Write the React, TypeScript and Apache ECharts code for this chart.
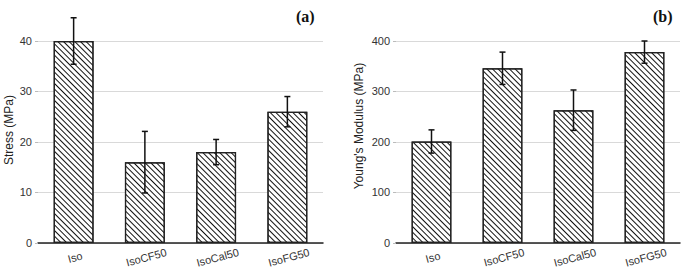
import React, { useEffect, useRef } from "react";
import * as echarts from "echarts";

const categories = ["Iso", "IsoCF50", "IsoCal50", "IsoFG50"];
const stressValues = [40, 16, 18, 26];
const stressErrors = [4.6, 6.1, 2.5, 3];
const modulusValues = [201, 346, 263, 378];
const modulusErrors = [23, 32, 40, 22];
const stressTicks = [0, 10, 20, 30, 40];
const modulusTicks = [0, 100, 200, 300, 400];
const axisNames = ["Stress (MPa)", "Young's Modulus (MPa)"];

const FONT = "Liberation Sans";

const hatch = {
  symbol: "rect",
  symbolSize: 1,
  color: "#111",
  dashArrayX: [1, 0],
  dashArrayY: [1, 3],
  rotation: Math.PI / 4,
  backgroundColor: "#fff",
};

function errSeries(xi: number, vals: number[], errs: number[]) {
  return {
    type: "custom",
    xAxisIndex: xi,
    yAxisIndex: xi,
    z: 5,
    clip: false,
    data: vals.map((v, i) => [i, v - errs[i], v + errs[i]]),
    renderItem: (params: any, api: any) => {
      const x = api.value(0);
      const lo = api.coord([x, api.value(1)]);
      const hi = api.coord([x, api.value(2)]);
      const style = { stroke: "#111", lineWidth: 1.5 };
      return {
        type: "group",
        children: [
          { type: "line", shape: { x1: hi[0], y1: hi[1], x2: lo[0], y2: lo[1] }, style },
          { type: "line", shape: { x1: hi[0] - 3, y1: hi[1], x2: hi[0] + 3, y2: hi[1] }, style },
          { type: "line", shape: { x1: lo[0] - 3, y1: lo[1], x2: lo[0] + 3, y2: lo[1] }, style },
        ],
      };
    },
  };
}

function xAxisDef(gi: number) {
  return {
    type: "category",
    gridIndex: gi,
    data: categories,
    axisLine: { lineStyle: { color: "#222", width: 1.5 } },
    axisTick: { alignWithLabel: true, length: 3, lineStyle: { color: "#222" } },
    axisLabel: {
      rotate: 15,
      align: "center",
      verticalAlign: "top",
      margin: 9,
      fontSize: 11,
      color: "#333",
      fontFamily: FONT,
    },
  };
}

function yAxisDef(gi: number, ticks: number[]) {
  return {
    type: "value",
    gridIndex: gi,
    min: ticks[0],
    max: ticks[ticks.length - 1],
    interval: ticks[1] - ticks[0],
    axisLine: { show: false },
    axisTick: { show: true, length: 3, lineStyle: { color: "#bbb" } },
    axisLabel: { fontSize: 11, color: "#333", margin: 6, fontFamily: FONT },
    splitLine: { lineStyle: { color: "#d9d9d9", width: 1 } },
  };
}

export default function App() {
  const ref = useRef<HTMLDivElement>(null);
  useEffect(() => {
    const chart = echarts.init(ref.current!, undefined, { renderer: "svg" });
    const titleStyle = { fontFamily: "Liberation Serif", fontWeight: "bold", fontSize: 16, color: "#111" };
    const nameStyle = (text: string) => ({
      text,
      fontSize: 12,
      fill: "#222",
      fontFamily: FONT,
      textAlign: "center",
      textVerticalAlign: "middle",
    });
    chart.setOption({
      animation: false,
      backgroundColor: "#fff",
      title: [
        { text: "(a)", left: 291, top: 3, textStyle: titleStyle },
        { text: "(b)", left: 648, top: 3, textStyle: titleStyle },
      ],
      graphic: [
        { type: "text", x: 9, y: 130, rotation: Math.PI / 2, style: nameStyle(axisNames[0]) },
        { type: "text", x: 359, y: 126, rotation: Math.PI / 2, style: nameStyle(axisNames[1]) },
      ],
      grid: [
        { left: 38, right: 362, top: 41, bottom: 25 },
        { left: 396, right: 5, top: 41, bottom: 25 },
      ],
      xAxis: [xAxisDef(0), xAxisDef(1)],
      yAxis: [yAxisDef(0, stressTicks), yAxisDef(1, modulusTicks)],
      series: [
        {
          type: "bar",
          xAxisIndex: 0,
          yAxisIndex: 0,
          data: stressValues,
          barWidth: "56%",
          itemStyle: { color: "#fff", borderColor: "#222", borderWidth: 1.2, decal: hatch },
        },
        {
          type: "bar",
          xAxisIndex: 1,
          yAxisIndex: 1,
          data: modulusValues,
          barWidth: "56%",
          itemStyle: { color: "#fff", borderColor: "#222", borderWidth: 1.2, decal: hatch },
        },
        errSeries(0, stressValues, stressErrors),
        errSeries(1, modulusValues, modulusErrors),
      ],
    });
    return () => chart.dispose();
  }, []);
  return <div ref={ref} style={{ width: 685, height: 269, position: "absolute", left: 0, top: 0 }} />;
}
